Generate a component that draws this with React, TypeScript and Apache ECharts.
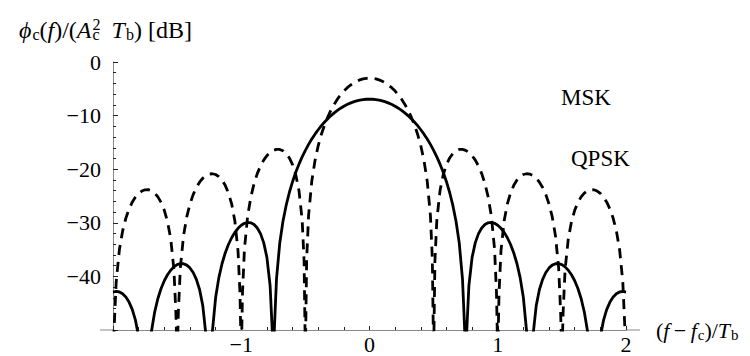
import React, { useEffect, useRef } from "react";
import * as echarts from "echarts";

// QPSK spectrum [ (f - fc) Tb , dB ]
const qpsk: number[][] = [
  [-2, -55], [-1.99, -48.99], [-1.975, -41.0], [-1.95, -34.98], [-1.925, -31.52], [-1.9, -29.16],
  [-1.875, -27.44], [-1.85, -26.16], [-1.825, -25.2], [-1.8, -24.52], [-1.775, -24.07], [-1.75, -23.84],
  [-1.725, -23.82], [-1.7, -24.02], [-1.675, -24.46], [-1.65, -25.17], [-1.625, -26.2], [-1.6, -27.67],
  [-1.575, -29.78], [-1.55, -32.98], [-1.525, -38.75], [-1.51, -46.59], [-1.5, -55], [-1.49, -46.48],
  [-1.475, -38.46], [-1.45, -32.4], [-1.425, -28.91], [-1.4, -26.51], [-1.375, -24.75], [-1.35, -23.42],
  [-1.325, -22.42], [-1.3, -21.69], [-1.275, -21.19], [-1.25, -20.91], [-1.225, -20.85], [-1.2, -20.99],
  [-1.175, -21.38], [-1.15, -22.03], [-1.125, -23.01], [-1.1, -24.42], [-1.075, -26.46], [-1.05, -29.6],
  [-1.025, -35.3], [-1.01, -43.1], [-1, -55], [-0.99, -42.93], [-0.975, -34.87], [-0.95, -28.73],
  [-0.925, -25.16], [-0.9, -22.67], [-0.875, -20.82], [-0.85, -19.4], [-0.825, -18.31], [-0.8, -17.47],
  [-0.775, -16.87], [-0.75, -16.48], [-0.725, -16.29], [-0.7, -16.31], [-0.675, -16.56], [-0.65, -17.07],
  [-0.625, -17.9], [-0.6, -19.15], [-0.575, -21.03], [-0.55, -23.98], [-0.525, -29.49], [-0.51, -37.17],
  [-0.5, -55], [-0.49, -36.82], [-0.475, -28.62], [-0.45, -22.24], [-0.425, -18.4], [-0.4, -15.63],
  [-0.375, -13.47], [-0.35, -11.7], [-0.325, -10.21], [-0.3, -8.95], [-0.275, -7.87], [-0.25, -6.93],
  [-0.225, -6.13], [-0.2, -5.43], [-0.175, -4.84], [-0.15, -4.34], [-0.125, -3.92], [-0.1, -3.59],
  [-0.075, -3.33], [-0.05, -3.15], [-0.025, -3.05], [0, -3.01],
  [0.025, -3.05], [0.05, -3.15], [0.075, -3.33], [0.1, -3.59], [0.125, -3.92], [0.15, -4.34],
  [0.175, -4.84], [0.2, -5.43], [0.225, -6.13], [0.25, -6.93], [0.275, -7.87], [0.3, -8.95],
  [0.325, -10.21], [0.35, -11.7], [0.375, -13.47], [0.4, -15.63], [0.425, -18.4], [0.45, -22.24],
  [0.475, -28.62], [0.49, -36.82], [0.5, -55], [0.51, -37.17], [0.525, -29.49], [0.55, -23.98],
  [0.575, -21.03], [0.6, -19.15], [0.625, -17.9], [0.65, -17.07], [0.675, -16.56], [0.7, -16.31],
  [0.725, -16.29], [0.75, -16.48], [0.775, -16.87], [0.8, -17.47], [0.825, -18.31], [0.85, -19.4],
  [0.875, -20.82], [0.9, -22.67], [0.925, -25.16], [0.95, -28.73], [0.975, -34.87], [0.99, -42.93],
  [1, -55], [1.01, -43.1], [1.025, -35.3], [1.05, -29.6], [1.075, -26.46], [1.1, -24.42],
  [1.125, -23.01], [1.15, -22.03], [1.175, -21.38], [1.2, -20.99], [1.225, -20.85], [1.25, -20.91],
  [1.275, -21.19], [1.3, -21.69], [1.325, -22.42], [1.35, -23.42], [1.375, -24.75], [1.4, -26.51],
  [1.425, -28.91], [1.45, -32.4], [1.475, -38.46], [1.49, -46.48], [1.5, -55], [1.51, -46.59],
  [1.525, -38.75], [1.55, -32.98], [1.575, -29.78], [1.6, -27.67], [1.625, -26.2], [1.65, -25.17],
  [1.675, -24.46], [1.7, -24.02], [1.725, -23.82], [1.75, -23.84], [1.775, -24.07], [1.8, -24.52],
  [1.825, -25.2], [1.85, -26.16], [1.875, -27.44], [1.9, -29.16], [1.925, -31.52], [1.95, -34.98],
  [1.975, -41.0], [1.99, -48.99], [2, -55],
];

// MSK spectrum [ (f - fc) Tb , dB ]
const msk: number[][] = [
  [-2, -42.92], [-1.975, -42.81], [-1.95, -42.91], [-1.925, -43.25], [-1.9, -43.86], [-1.875, -44.79],
  [-1.85, -46.16], [-1.825, -48.16], [-1.8, -51.26], [-1.775, -56.92], [-1.75, -60], [-1.725, -56.42],
  [-1.7, -50.24], [-1.675, -46.64], [-1.65, -44.13], [-1.625, -42.25], [-1.6, -40.81], [-1.575, -39.69],
  [-1.55, -38.84], [-1.525, -38.22], [-1.5, -37.81], [-1.475, -37.62], [-1.45, -37.64], [-1.425, -37.9],
  [-1.4, -38.42], [-1.375, -39.27], [-1.35, -40.54], [-1.325, -42.45], [-1.3, -45.45], [-1.275, -51.01],
  [-1.25, -60], [-1.225, -50.28], [-1.2, -44.0], [-1.175, -40.27], [-1.15, -37.64], [-1.125, -35.63],
  [-1.1, -34.05], [-1.075, -32.79], [-1.05, -31.79], [-1.025, -31.02], [-1, -30.46], [-0.975, -30.09],
  [-0.95, -29.94], [-0.925, -30.0], [-0.9, -30.33], [-0.875, -30.97], [-0.85, -32.02], [-0.825, -33.7],
  [-0.8, -36.45], [-0.775, -41.75], [-0.76, -49.29], [-0.75, -55], [-0.74, -48.77], [-0.725, -40.44],
  [-0.7, -33.83], [-0.675, -29.77], [-0.65, -26.76], [-0.625, -24.35], [-0.6, -22.33], [-0.575, -20.58],
  [-0.55, -19.06], [-0.525, -17.7], [-0.5, -16.48], [-0.475, -15.37], [-0.45, -14.37], [-0.425, -13.46],
  [-0.4, -12.64], [-0.375, -11.88], [-0.35, -11.19], [-0.325, -10.57], [-0.3, -10.0], [-0.275, -9.49],
  [-0.25, -9.03], [-0.225, -8.62], [-0.2, -8.26], [-0.175, -7.94], [-0.15, -7.67], [-0.125, -7.44],
  [-0.1, -7.26], [-0.075, -7.12], [-0.05, -7.01], [-0.025, -6.95], [0, -6.93],
  [0.025, -6.95], [0.05, -7.01], [0.075, -7.12], [0.1, -7.26], [0.125, -7.44], [0.15, -7.67],
  [0.175, -7.94], [0.2, -8.26], [0.225, -8.62], [0.25, -9.03], [0.275, -9.49], [0.3, -10.0],
  [0.325, -10.57], [0.35, -11.19], [0.375, -11.88], [0.4, -12.64], [0.425, -13.46], [0.45, -14.37],
  [0.475, -15.37], [0.5, -16.48], [0.525, -17.7], [0.55, -19.06], [0.575, -20.58], [0.6, -22.33],
  [0.625, -24.35], [0.65, -26.76], [0.675, -29.77], [0.7, -33.83], [0.725, -40.44], [0.74, -48.77],
  [0.75, -55], [0.76, -49.29], [0.775, -41.75], [0.8, -36.45], [0.825, -33.7], [0.85, -32.02],
  [0.875, -30.97], [0.9, -30.33], [0.925, -30.0], [0.95, -29.94], [0.975, -30.09], [1, -30.46],
  [1.025, -31.02], [1.05, -31.79], [1.075, -32.79], [1.1, -34.05], [1.125, -35.63], [1.15, -37.64],
  [1.175, -40.27], [1.2, -44.0], [1.225, -50.28], [1.25, -60], [1.275, -51.01], [1.3, -45.45],
  [1.325, -42.45], [1.35, -40.54], [1.375, -39.27], [1.4, -38.42], [1.425, -37.9], [1.45, -37.64],
  [1.475, -37.62], [1.5, -37.81], [1.525, -38.22], [1.55, -38.84], [1.575, -39.69], [1.6, -40.81],
  [1.625, -42.25], [1.65, -44.13], [1.675, -46.64], [1.7, -50.24], [1.725, -56.42], [1.75, -60],
  [1.775, -56.92], [1.8, -51.26], [1.825, -48.16], [1.85, -46.16], [1.875, -44.79], [1.9, -43.86],
  [1.925, -43.25], [1.95, -42.91], [1.975, -42.81], [2, -42.92],
];

const xTicks = [-2, -1, 0, 1, 2];
const xTickLabels = ["", "−1", "0", "1", "2"];
const yTicks = [-50, -40, -30, -20, -10, 0];
const yTickLabels = ["", "−40", "−30", "−20", "−10", "0"];
const seriesNames = ["MSK", "QPSK"];

const FONT = "Liberation Serif";
const FS = 22;

const GRID = { left: 105, right: 132, top: 54, bottom: 34 };

function makeRich(fs: number, sfs: number, back: number) {
  return {
    n: { fontFamily: FONT, fontSize: fs, color: "#000", verticalAlign: "middle", lineHeight: fs },
    i: { fontFamily: FONT, fontSize: fs, fontStyle: "italic", color: "#000", verticalAlign: "middle", lineHeight: fs },
    sub: { fontFamily: FONT, fontSize: sfs, color: "#000", verticalAlign: "middle", lineHeight: 14, padding: [9, 0, 0, 1] },
    sup: { fontFamily: FONT, fontSize: sfs, color: "#000", verticalAlign: "middle", lineHeight: 14, padding: [0, 0, 12, 1] },
    subc: { fontFamily: FONT, fontSize: sfs, color: "#000", verticalAlign: "middle", lineHeight: 14, padding: [9, 0, 0, -back] },
  };
}

export default function App() {
  const ref = useRef<HTMLDivElement>(null);
  useEffect(() => {
    if (!ref.current) return;
    const chart = echarts.init(ref.current, undefined, { renderer: "svg" });
    const axisY = 356 - GRID.bottom;
    const nameRich = makeRich(22, 15, 7);
    const titleRich = makeRich(24, 16, 8);
    chart.setOption({
      animation: false,
      grid: { ...GRID, containLabel: false, outerBoundsMode: "none" },
      xAxis: {
        type: "value",
        min: -2,
        max: 2,
        interval: 1,
        splitLine: { show: false },
        axisLine: { show: true, onZero: false, lineStyle: { color: "#888", width: 1 } },
        axisTick: { show: true, inside: true, length: 4, lineStyle: { color: "#222", width: 1 } },
        minorTick: { show: true, splitNumber: 5, length: 3, lineStyle: { color: "#222", width: 1 } },
        axisLabel: {
          margin: 4,
          fontFamily: FONT,
          fontSize: FS,
          lineHeight: 20,
          color: "#000",
          formatter: (v: number) => {
            const k = xTicks.indexOf(Math.round(v * 1000) / 1000);
            return k >= 0 ? xTickLabels[k] : "";
          },
        },
        name: "{n|(}{i|f}{n|\u2009−\u2009}{i|f}{sub|c}{n|)/}{i|T}{sub|b}",
        nameLocation: "end",
        nameGap: 30,
        nameTextStyle: { fontFamily: FONT, fontSize: 22, color: "#000", rich: nameRich, align: "left", verticalAlign: "middle" },
      },
      yAxis: {
        type: "value",
        min: -50,
        max: 0,
        interval: 10,
        splitLine: { show: false },
        axisLine: { show: true, onZero: false, lineStyle: { color: "#888", width: 1 } },
        axisTick: { show: true, inside: true, length: 5, lineStyle: { color: "#222", width: 1 } },
        minorTick: { show: true, splitNumber: 5, length: 3, lineStyle: { color: "#222", width: 1 } },
        axisLabel: {
          margin: 12,
          fontFamily: FONT,
          fontSize: FS,
          lineHeight: 22,
          color: "#000",
          formatter: (v: number) => {
            const k = yTicks.indexOf(Math.round(v));
            return k >= 0 ? yTickLabels[k] : "";
          },
        },
      },
      graphic: [
        {
          type: "text",
          left: 11,
          top: 8,
          style: {
            text: "{i|ϕ}{sub|c}{n|(}{i|f}{n|)/(}{i|A}{sup|2}{subc|c}{n|  }{i|T}{sub|b}{n|) [dB]}",
            rich: titleRich,
          },
        },
        { type: "line", shape: { x1: 92, y1: axisY, x2: GRID.left, y2: axisY }, style: { stroke: "#888", lineWidth: 1 } },
        { type: "line", shape: { x1: 750 - GRID.right, y1: axisY, x2: 632, y2: axisY }, style: { stroke: "#888", lineWidth: 1 } },
        { type: "text", left: 553, top: 78, style: { text: seriesNames[0], fontFamily: FONT, fontSize: 23, fill: "#000" } },
        { type: "text", left: 563, top: 139, style: { text: seriesNames[1], fontFamily: FONT, fontSize: 23, fill: "#000" } },
      ],
      series: [
        {
          name: seriesNames[0],
          type: "line",
          data: msk,
          symbol: "none",
          clip: true,
          lineStyle: { color: "#000", width: 2.8, type: "solid" },
        },
        {
          name: seriesNames[1],
          type: "line",
          data: qpsk,
          symbol: "none",
          clip: true,
          lineStyle: { color: "#000", width: 2.8, type: [10, 7], cap: "butt" },
        },
      ],
    });
    return () => chart.dispose();
  }, []);
  return <div ref={ref} style={{ width: 750, height: 356 }} />;
}
